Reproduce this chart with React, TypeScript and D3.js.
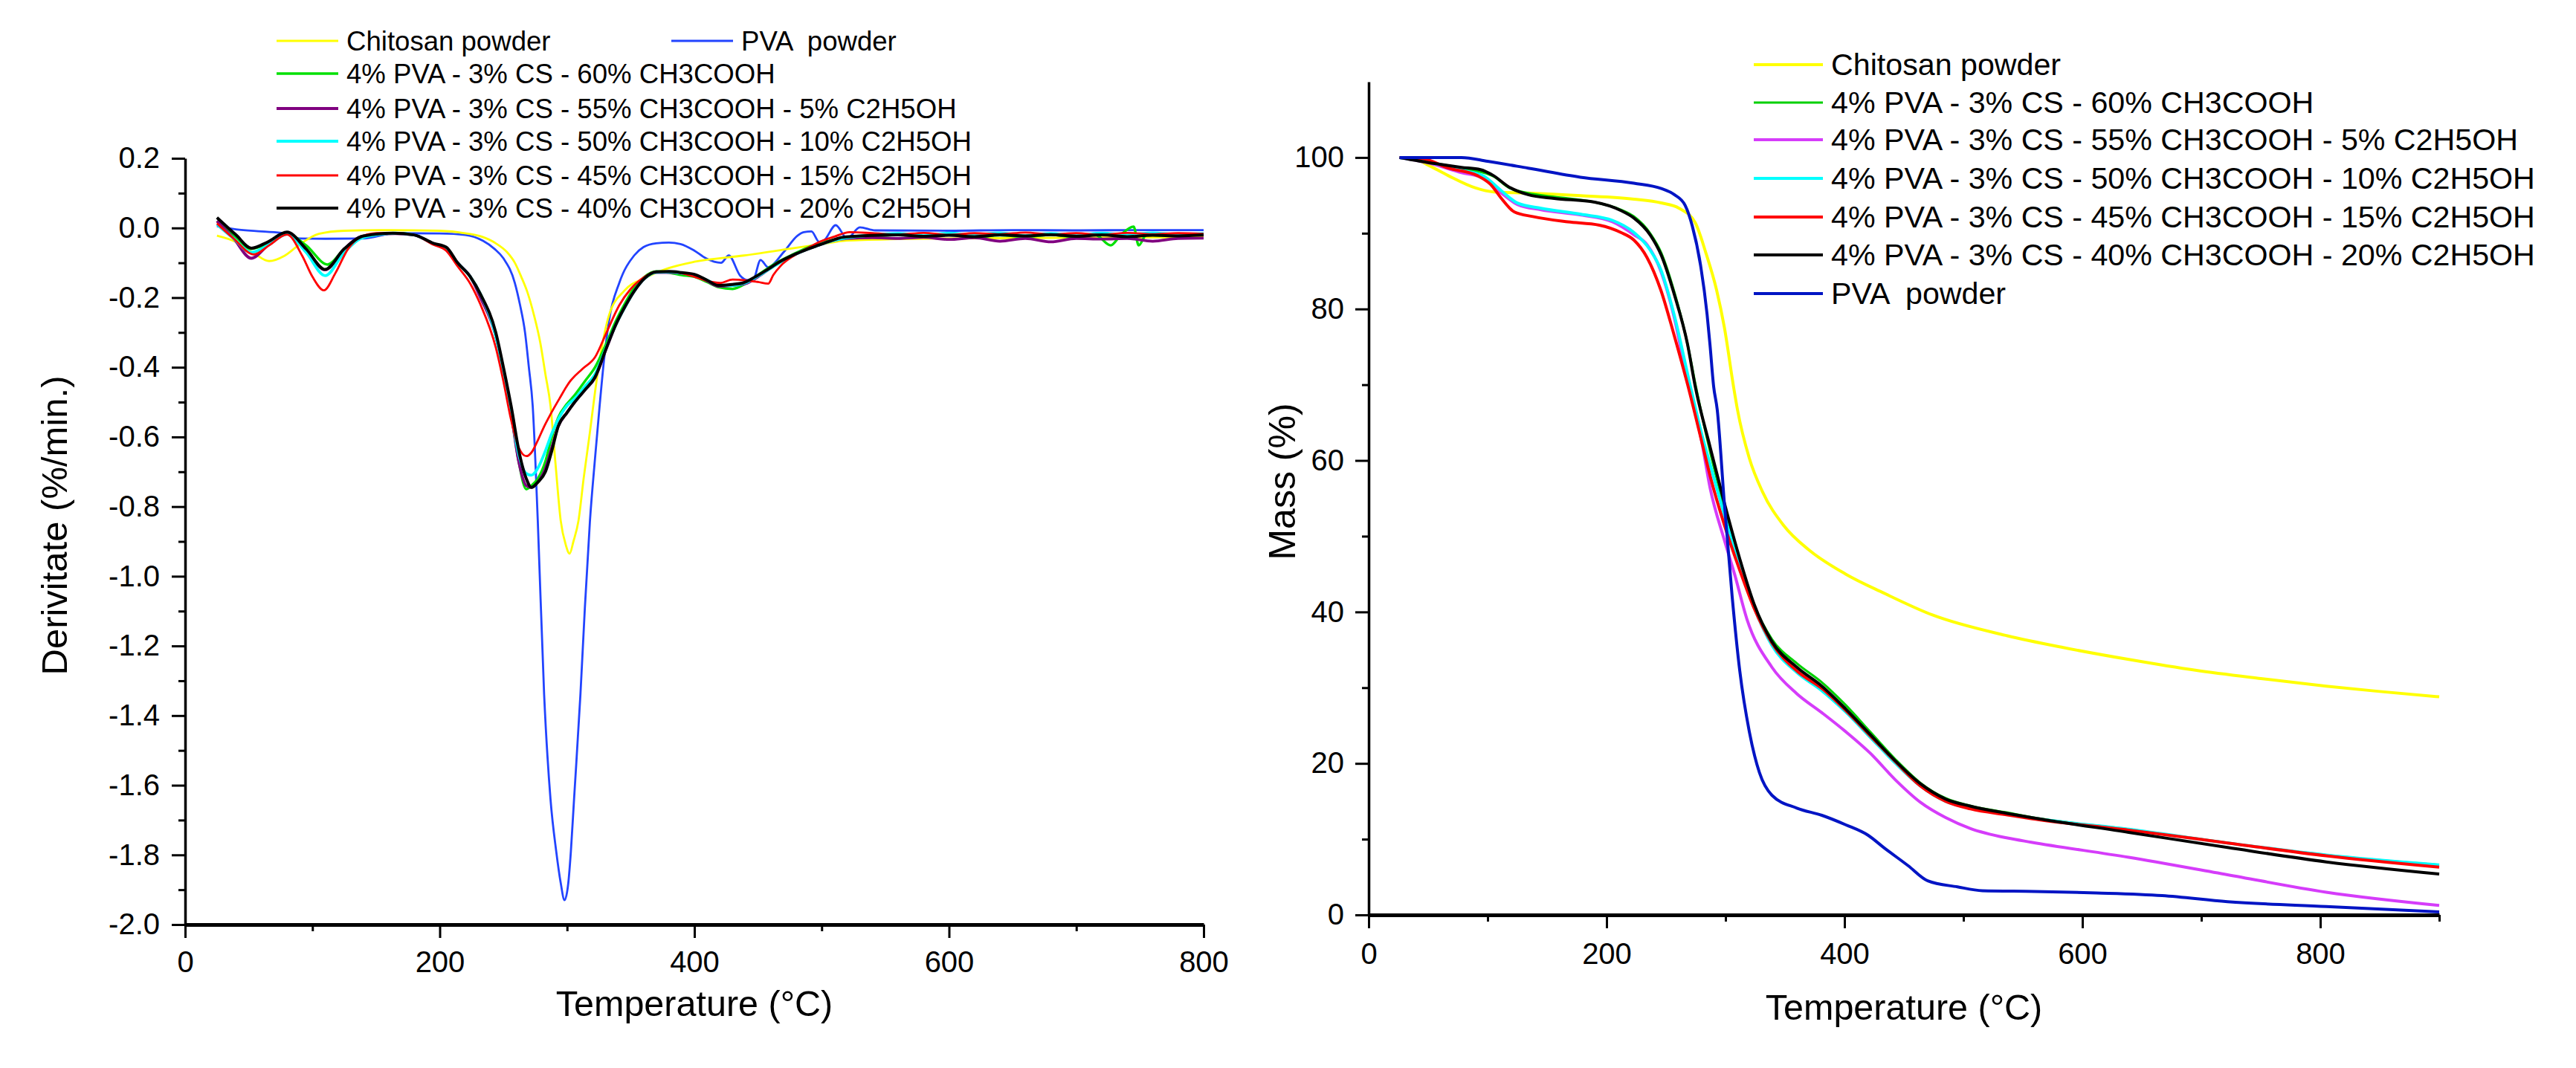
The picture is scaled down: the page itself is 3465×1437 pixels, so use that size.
import React, { useEffect, useRef } from 'react';
import * as d3 from 'd3';

type Pt = [number, number];

// ---- left panel: derivative (DTG) curves, [temperature °C, %/min] ----
const dtgChitosan: Pt[] = [
  [25, -0.022], [40, -0.04], [55, -0.075], [66, -0.095], [78, -0.08], [89, -0.05], [105, -0.017], [125, -0.008],
  [160, -0.006], [200, -0.008], [220, -0.015], [233, -0.025], [244, -0.044], [253, -0.07], [259, -0.1], [264, -0.14],
  [269, -0.186], [274, -0.25], [279, -0.33], [283, -0.42], [287, -0.51], [291, -0.68], [295, -0.84], [299, -0.91],
  [302, -0.935], [305, -0.9], [309, -0.84], [313, -0.72], [318, -0.585], [322, -0.47], [326, -0.371], [333, -0.25],
  [345, -0.18], [361, -0.144], [380, -0.115], [400, -0.097], [439, -0.079], [478, -0.058], [497, -0.048],
  [520, -0.036], [560, -0.032], [600, -0.03], [650, -0.029], [700, -0.028], [760, -0.027], [800, -0.027],
];
const dtgPva: Pt[] = [
  [25, 0.005], [40, -0.004], [60, -0.01], [78, -0.015], [90, -0.03], [110, -0.031], [140, -0.03], [165, -0.015],
  [200, -0.016], [220, -0.02], [234, -0.037], [243, -0.06], [250, -0.087], [259, -0.158], [263, -0.22], [267, -0.3],
  [270, -0.4], [273, -0.51], [277, -0.84], [282, -1.34], [287, -1.64], [291.5, -1.79], [295, -1.88], [298, -1.93],
  [301, -1.88], [303, -1.79], [305.5, -1.64], [310.5, -1.34], [314, -1.09], [318, -0.84], [322, -0.66], [325.6, -0.51],
  [329, -0.38], [333, -0.265], [341, -0.158], [352.7, -0.079], [360, -0.055], [370, -0.044], [380, -0.042],
  [389, -0.046], [400, -0.065], [409, -0.087], [421, -0.1], [427, -0.079], [436, -0.137], [442, -0.15], [446, -0.15],
  [452, -0.092], [458, -0.113], [470, -0.07], [481, -0.022], [486, -0.012], [492, -0.01], [498, -0.04], [502, -0.035],
  [511, 0.008], [520, -0.03], [530, 0.002], [542, -0.007], [600, -0.008], [650, -0.006], [700, -0.007], [750, -0.006],
  [800, -0.006],
];
const dtg60: Pt[] = [
  [25, 0.02], [38, -0.02], [52, -0.06], [65, -0.045], [80, -0.016], [95, -0.05], [112, -0.105], [125, -0.06],
  [137, -0.03], [150, -0.02], [165, -0.015], [180, -0.02], [195, -0.045], [205, -0.06], [214, -0.1], [224, -0.14],
  [232, -0.19], [244, -0.31], [250, -0.41], [256, -0.53], [262, -0.67], [268, -0.75], [272, -0.74], [277, -0.72],
  [283, -0.67], [288, -0.6], [293, -0.545], [300, -0.505], [306, -0.48], [314, -0.44], [322, -0.4], [331, -0.33],
  [338, -0.27], [345, -0.22], [353, -0.17], [361, -0.14], [370, -0.125], [380, -0.128], [390, -0.135], [400, -0.14],
  [410, -0.155], [419, -0.17], [430, -0.175], [440, -0.16], [450, -0.135], [458, -0.115], [467, -0.095],
  [478, -0.075], [488, -0.058], [497, -0.045], [508, -0.035], [520, -0.028], [540, -0.025], [560, -0.02],
  [580, -0.026], [600, -0.02], [620, -0.027], [640, -0.021], [660, -0.025], [680, -0.02], [700, -0.026],
  [715, -0.02], [727, -0.05], [735, -0.02], [745, 0.004], [749, -0.05], [755, -0.02], [770, -0.022], [785, -0.018],
  [800, -0.02],
];
const dtg55: Pt[] = [
  [25, 0.02], [38, -0.03], [52, -0.087], [65, -0.05], [80, -0.015], [95, -0.065], [110, -0.12], [125, -0.06],
  [138, -0.025], [150, -0.02], [165, -0.016], [180, -0.02], [195, -0.045], [205, -0.058], [214, -0.1], [224, -0.14],
  [232, -0.2], [244, -0.31], [250, -0.41], [256, -0.53], [262, -0.67], [268, -0.74], [272, -0.745], [277, -0.73],
  [283, -0.69], [288, -0.63], [293, -0.57], [300, -0.53], [306, -0.5], [314, -0.465], [322, -0.43], [331, -0.345],
  [338, -0.28], [345, -0.23], [353, -0.18], [361, -0.145], [370, -0.128], [380, -0.128], [390, -0.13], [400, -0.135],
  [410, -0.152], [419, -0.167], [430, -0.165], [440, -0.16], [450, -0.14], [458, -0.12], [467, -0.098],
  [478, -0.078], [488, -0.062], [497, -0.05], [508, -0.037], [520, -0.03], [540, -0.028], [560, -0.03],
  [580, -0.027], [600, -0.033], [620, -0.028], [640, -0.038], [660, -0.03], [680, -0.04], [700, -0.03],
  [720, -0.032], [740, -0.03], [760, -0.038], [780, -0.03], [800, -0.029],
];
const dtg50: Pt[] = [
  [25, 0.01], [38, -0.03], [52, -0.07], [65, -0.05], [80, -0.018], [95, -0.07], [110, -0.137], [125, -0.07],
  [138, -0.03], [150, -0.02], [165, -0.015], [180, -0.02], [195, -0.045], [205, -0.058], [214, -0.1], [224, -0.14],
  [232, -0.19], [244, -0.31], [250, -0.41], [256, -0.53], [262, -0.65], [268, -0.705], [272, -0.71], [277, -0.69],
  [283, -0.64], [288, -0.59], [293, -0.55], [300, -0.51], [306, -0.49], [314, -0.455], [322, -0.42], [331, -0.34],
  [338, -0.28], [345, -0.23], [353, -0.18], [361, -0.145], [370, -0.127], [380, -0.126], [390, -0.13], [400, -0.136],
  [410, -0.15], [419, -0.163], [430, -0.165], [440, -0.158], [450, -0.138], [458, -0.12], [467, -0.1],
  [478, -0.078], [488, -0.062], [497, -0.05], [508, -0.037], [520, -0.028], [540, -0.02], [560, -0.016],
  [580, -0.022], [600, -0.015], [620, -0.02], [640, -0.014], [660, -0.022], [680, -0.016], [700, -0.021],
  [720, -0.015], [740, -0.02], [760, -0.014], [780, -0.019], [800, -0.016],
];
const dtg45: Pt[] = [
  [25, 0.013], [38, -0.03], [54, -0.076], [66, -0.05], [80, -0.019], [92, -0.08], [100, -0.14], [109, -0.179],
  [118, -0.13], [128, -0.06], [136, -0.03], [150, -0.015], [165, -0.014], [180, -0.02], [195, -0.048], [205, -0.065],
  [214, -0.11], [224, -0.16], [232, -0.22], [244, -0.343], [250, -0.44], [256, -0.55], [262, -0.63], [268, -0.655],
  [272, -0.645], [277, -0.61], [282, -0.57], [287, -0.535], [294, -0.49], [302, -0.442], [312, -0.405], [322, -0.371],
  [331, -0.3], [341, -0.222], [350, -0.175], [361, -0.14], [370, -0.125], [380, -0.125], [390, -0.13], [400, -0.14],
  [410, -0.152], [420, -0.158], [430, -0.148], [440, -0.15], [450, -0.155], [458, -0.16], [462, -0.135],
  [468, -0.108], [478, -0.08], [488, -0.06], [497, -0.042], [510, -0.025], [522, -0.012], [540, -0.015],
  [560, -0.019], [580, -0.014], [600, -0.02], [620, -0.015], [640, -0.018], [660, -0.013], [680, -0.019],
  [700, -0.015], [720, -0.02], [740, -0.014], [760, -0.018], [780, -0.015], [800, -0.017],
];
const dtg40: Pt[] = [
  [25, 0.03], [40, -0.02], [52, -0.058], [65, -0.04], [80, -0.012], [95, -0.06], [110, -0.119], [125, -0.06],
  [140, -0.023], [163, -0.015], [180, -0.02], [195, -0.044], [205, -0.055], [214, -0.1], [224, -0.14], [232, -0.19],
  [244, -0.3], [250, -0.4], [256, -0.51], [263, -0.655], [268, -0.72], [272, -0.745], [277, -0.73], [283, -0.7],
  [288, -0.64], [293, -0.57], [300, -0.53], [306, -0.5], [314, -0.465], [322, -0.428], [331, -0.343], [338, -0.28],
  [345, -0.229], [353, -0.18], [361, -0.144], [370, -0.126], [380, -0.125], [390, -0.128], [400, -0.133],
  [410, -0.15], [419, -0.165], [430, -0.162], [438, -0.158], [448, -0.14], [458, -0.118], [467, -0.097],
  [478, -0.077], [488, -0.062], [497, -0.05], [508, -0.036], [516, -0.027], [536, -0.022], [560, -0.02],
  [580, -0.024], [600, -0.021], [620, -0.025], [640, -0.02], [660, -0.023], [680, -0.019], [700, -0.024],
  [720, -0.02], [740, -0.025], [760, -0.021], [780, -0.023], [800, -0.02],
];

// ---- right panel: mass loss (TGA) curves, [temperature °C, mass %] ----
const tgaChitosan: Pt[] = [
  [26, 100], [38, 99.9], [50, 99], [67, 97.6], [89.5, 96], [105, 95.45], [134, 95.3], [178, 94.96], [223, 94.5],
  [246, 94], [261, 93.3], [274.5, 91.4], [283.5, 87.4], [292.5, 82.5], [299, 77.6], [307, 69.5], [310, 66.75],
  [320, 60.3], [331, 55.9], [349, 51.4], [370, 48.2], [401, 45], [433, 42.5], [474, 39.6], [537, 36.85],
  [584, 35.3], [640, 33.7], [695, 32.3], [750, 31.2], [805, 30.2], [850, 29.5], [900, 28.8],
];
const tga60: Pt[] = [
  [26, 100], [50, 99.4], [78, 98.6], [94, 98.1], [105, 97.5], [118, 96], [134, 95.3], [156, 94.8], [190, 94.1],
  [212, 93.1], [223, 92.2], [237, 89.9], [246, 87.4], [257, 82.2], [268, 75.4], [275, 69.8], [287, 61.2],
  [299, 53.8], [312, 46.6], [324, 40.9], [339, 36.4], [360, 33.2], [381, 30.7], [401, 27.7], [422, 24.1],
  [443, 20.5], [464, 17.4], [485, 15.4], [506, 14.4], [537, 13.5], [557, 12.9], [639, 11.3], [722, 9.5],
  [805, 7.9], [900, 6.6],
];
const tga55: Pt[] = [
  [26, 100], [50, 99.3], [78, 98], [96, 97.3], [111.6, 95.3], [125, 93.8], [145, 93.1], [178.5, 92.4], [205, 91.5],
  [223, 89.8], [234, 88.5], [245.6, 85], [256.7, 79], [268, 70.5], [280, 62.5], [287, 56.4], [299, 49.5],
  [307.6, 45], [318, 39.05], [339, 32.7], [360, 29.2], [381, 26.7], [401, 24.2], [422, 21.3], [443, 17.8],
  [464, 14.85], [485, 12.85], [506, 11.4], [537, 10.15], [557, 9.6], [639, 7.6], [722, 5.3], [805, 3],
  [900, 1.25],
];
const tga50: Pt[] = [
  [26, 100], [50, 99.4], [78, 98.3], [96, 97.6], [111.6, 95.6], [125, 94], [145, 93.3], [178.5, 92.5], [205, 91.7],
  [223, 90.1], [236.6, 87.8], [245.6, 85.2], [256.7, 79.3], [270, 70.1], [280, 63.5], [287, 59.5], [299, 52.8],
  [312, 46], [324, 40.6], [339, 35.6], [360, 32], [381, 29.6], [401, 26.8], [422, 23.4], [443, 20], [464, 17],
  [485, 15], [506, 14.1], [537, 13.3], [557, 12.8], [639, 11.3], [722, 9.5], [805, 7.9], [900, 6.6],
];
const tga45: Pt[] = [
  [26, 100], [45, 99.87], [67, 98.6], [91.5, 97.6], [102.5, 96.45], [111.6, 94.6], [122.6, 92.8], [138, 92.2],
  [167.5, 91.5], [194, 91.06], [212, 90.1], [223, 89.1], [234, 86.8], [245.6, 82.5], [256.7, 76.6], [268, 70.1],
  [280, 62.5], [287, 58], [299, 51.5], [312, 45.5], [324, 40.5], [339, 35.9], [360, 32.2], [381, 29.9], [401, 27],
  [422, 23.6], [443, 20.2], [464, 17], [485, 15], [506, 14], [537, 13.2], [557, 12.7], [639, 11.2], [722, 9.5],
  [805, 7.8], [900, 6.3],
];
const tga40: Pt[] = [
  [26, 100], [55.6, 99.2], [78, 98.7], [94, 98.4], [105, 97.6], [118, 96.1], [134, 95.1], [156, 94.6], [190, 94.1],
  [212, 93], [223, 92], [237, 89.7], [246, 87.1], [257, 81.9], [268, 75.4], [274.5, 69.8], [287, 61.8], [299, 54.4],
  [312, 47], [324, 41.05], [339, 36.1], [360, 32.7], [381, 30.2], [401, 27.2], [422, 23.75], [443, 20.3],
  [464, 17.3], [485, 15.3], [506, 14.35], [537, 13.4], [557, 12.85], [639, 10.9], [722, 8.9], [805, 7],
  [900, 5.4],
];
const tgaPva: Pt[] = [
  [26, 100], [78, 100], [100, 99.5], [134, 98.6], [178, 97.4], [223, 96.6], [246, 95.9], [257, 95.1], [266, 93.7],
  [272, 91], [279, 85.8], [284.5, 79.3], [287, 75.2], [290, 69.8], [293, 66.75], [299, 54.4], [305.6, 42],
  [312, 32.2], [320, 24.2], [328.5, 18.8], [339, 15.8], [360, 14.1], [381, 13.15], [401, 11.9], [420, 10.5],
  [433, 8.9], [453.5, 6.5], [470, 4.5], [495, 3.7], [516, 3.2], [560, 3.1], [612, 2.9], [667, 2.55], [722, 1.75],
  [805, 1.1], [900, 0.4],
];

// ---- tick values ----
const leftXTicks = [0, 200, 400, 600, 800];
const leftXMinor = [100, 300, 500, 700];
const leftYTicks = [0.2, 0, -0.2, -0.4, -0.6, -0.8, -1.0, -1.2, -1.4, -1.6, -1.8, -2.0];
const leftYMinor = [0.1, -0.1, -0.3, -0.5, -0.7, -0.9, -1.1, -1.3, -1.5, -1.7, -1.9];
const rightXTicks = [0, 200, 400, 600, 800];
const rightXMinor = [100, 300, 500, 700, 900];
const rightYTicks = [0, 20, 40, 60, 80, 100];
const rightYMinor = [10, 30, 50, 70, 90];

const labelChitosan = 'Chitosan powder';
const labelPva = 'PVA  powder';
const label60 = '4% PVA - 3% CS - 60% CH3COOH';
const label55 = '4% PVA - 3% CS - 55% CH3COOH - 5% C2H5OH';
const label50 = '4% PVA - 3% CS - 50% CH3COOH - 10% C2H5OH';
const label45 = '4% PVA - 3% CS - 45% CH3COOH - 15% C2H5OH';
const label40 = '4% PVA - 3% CS - 40% CH3COOH - 20% C2H5OH';

const FONT = '"Liberation Sans", Arial, Helvetica, sans-serif';

interface Series { label: string; color: string; width: number; data: Pt[] }

const leftSeries: Series[] = [
  { label: labelPva, color: '#2244ff', width: 2.8, data: dtgPva },
  { label: labelChitosan, color: '#ffff00', width: 2.8, data: dtgChitosan },
  { label: label60, color: '#00e000', width: 3.4, data: dtg60 },
  { label: label55, color: '#800080', width: 3.8, data: dtg55 },
  { label: label50, color: '#00ffff', width: 3.8, data: dtg50 },
  { label: label45, color: '#ff0000', width: 2.8, data: dtg45 },
  { label: label40, color: '#000000', width: 4, data: dtg40 },
];

const rightSeries: Series[] = [
  { label: labelChitosan, color: '#ffff00', width: 4, data: tgaChitosan },
  { label: label60, color: '#00d000', width: 3.2, data: tga60 },
  { label: label55, color: '#d53cfa', width: 4, data: tga55 },
  { label: label50, color: '#00ffff', width: 4, data: tga50 },
  { label: label45, color: '#ff0000', width: 4, data: tga45 },
  { label: label40, color: '#000000', width: 4, data: tga40 },
  { label: labelPva, color: '#0014c4', width: 4, data: tgaPva },
];

const App: React.FC = () => {
  const svgRef = useRef<SVGSVGElement | null>(null);

  useEffect(() => {
    const svg = d3.select(svgRef.current);
    svg.selectAll('*').remove();

    const drawPanel = (
      x: d3.ScaleLinear<number, number>,
      y: d3.ScaleLinear<number, number>,
      xTicks: number[], xMinor: number[], yTicks: number[], yMinor: number[],
      yFmt: (d: number) => string, xPad: number, yPad: number,
    ) => {
      const g = svg.append('g');
      const y0 = y.range()[0];
      const x0 = x.range()[0];

      // minor ticks
      g.append('g').attr('transform', `translate(0,${y0})`)
        .call(d3.axisBottom(x).tickValues(xMinor).tickSize(9).tickFormat(() => ''))
        .call(a => a.select('.domain').remove());
      g.append('g').attr('transform', `translate(${x0},0)`)
        .call(d3.axisLeft(y).tickValues(yMinor).tickSize(9).tickFormat(() => ''))
        .call(a => a.select('.domain').remove());

      const xa = g.append('g').attr('transform', `translate(0,${y0})`)
        .call(d3.axisBottom(x).tickValues(xTicks).tickSize(18).tickSizeOuter(0).tickPadding(xPad).tickFormat(d => String(d)));
      xa.select('.domain').attr('stroke-width', 5);
      const ya = g.append('g').attr('transform', `translate(${x0},0)`)
        .call(d3.axisLeft(y).tickValues(yTicks).tickSize(18).tickSizeOuter(0).tickPadding(yPad).tickFormat(d => yFmt(d as number)));
      ya.select('.domain').attr('stroke-width', 3.5);

      g.selectAll('.tick line').attr('stroke-width', 3).attr('stroke', '#000');
      g.selectAll('.tick text').attr('font-size', 40).attr('font-family', FONT).attr('fill', '#000');
      g.selectAll('g').attr('font-family', FONT);
    };

    const drawLines = (series: Series[], x: d3.ScaleLinear<number, number>, y: d3.ScaleLinear<number, number>) => {
      const line = d3.line<Pt>().x(d => x(d[0])).y(d => y(d[1])).curve(d3.curveMonotoneX);
      svg.append('g').selectAll('path').data(series).join('path')
        .attr('d', d => line(d.data))
        .attr('fill', 'none')
        .attr('stroke', d => d.color)
        .attr('stroke-width', d => d.width)
        .attr('stroke-linejoin', 'round');
    };

    const legendItem = (s: Series, lx: number, ly: number, len: number, size: number) => {
      svg.append('line').attr('x1', lx).attr('x2', lx + len).attr('y1', ly).attr('y2', ly)
        .attr('stroke', s.color).attr('stroke-width', s.width);
      svg.append('text').attr('x', lx + len + 11).attr('y', ly).attr('dy', '0.35em')
        .attr('font-family', FONT).attr('font-size', size).style('white-space', 'pre')
        .text(s.label);
    };

    // ----- left: derivative -----
    const x1 = d3.scaleLinear().domain([0, 800]).range([249, 1619]);
    const y1 = d3.scaleLinear().domain([-2.0, 0.2]).range([1244, 213]);
    drawLines(leftSeries, x1, y1);
    drawPanel(x1, y1, leftXTicks, leftXMinor, leftYTicks, leftYMinor, d => d.toFixed(1), 18, 16);

    svg.append('text').attr('transform', `translate(90,707) rotate(-90)`)
      .attr('text-anchor', 'middle').attr('font-family', FONT).attr('font-size', 49)
      .text('Derivitate (%/min.)');
    svg.append('text').attr('x', x1(400)).attr('y', 1367)
      .attr('text-anchor', 'middle').attr('font-family', FONT).attr('font-size', 48.5)
      .text('Temperature (°C)');

    const leftRows = [55, 99, 146, 190, 236, 280];
    legendItem(leftSeries[1], 372, leftRows[0], 83, 36.6);
    legendItem(leftSeries[0], 903, leftRows[0], 83, 36.6);
    leftSeries.slice(2).forEach((s, i) => legendItem(s, 372, leftRows[i + 1], 83, 36.6));

    // ----- right: mass -----
    const x2 = d3.scaleLinear().domain([0, 900]).range([1841, 3281]);
    const y2 = d3.scaleLinear().domain([0, 110]).range([1231, 110]);
    drawLines(rightSeries, x2, y2);
    drawPanel(x2, y2, rightXTicks, rightXMinor, rightYTicks, rightYMinor, d => String(d), 20, 15);

    svg.append('text').attr('transform', `translate(1742,648) rotate(-90)`)
      .attr('text-anchor', 'middle').attr('font-family', FONT).attr('font-size', 50)
      .text('Mass (%)');
    svg.append('text').attr('x', x2(450)).attr('y', 1372)
      .attr('text-anchor', 'middle').attr('font-family', FONT).attr('font-size', 48.5)
      .text('Temperature (°C)');

    const rightRows = [87, 138, 188, 240, 292, 343, 395];
    rightSeries.forEach((s, i) => legendItem(s, 2359, rightRows[i], 93, 41.2));
  }, []);

  return (
    <svg ref={svgRef} width={3465} height={1437}
      style={{ position: 'absolute', left: 0, top: 0, background: '#fff', display: 'block' }} />
  );
};

export default App;
